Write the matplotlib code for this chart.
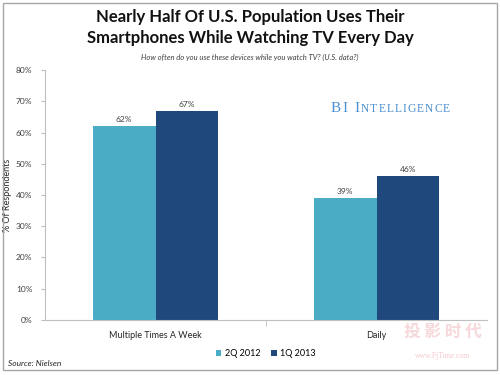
import matplotlib
matplotlib.use('Agg')
import matplotlib.pyplot as plt
from matplotlib.patches import Rectangle
import numpy as np

plt.rcParams['font.family'] = ['Lato', 'DejaVu Sans']

categories = ['Multiple Times A Week', 'Daily']
series_names = ['2Q 2012', '1Q 2013']
q2_2012 = [62, 39]
q1_2013 = [67, 46]
y_ticks = [0, 10, 20, 30, 40, 50, 60, 70, 80]

light = '#4BACC6'
dark = '#1F497D'


def main():
	''' main function'''

	fig = plt.figure()
	fig.set_size_inches(5, 3.75)
	ax = fig.add_axes([0.09, 0.147, 0.884, 0.666])

	x = np.arange(len(categories))
	w = 0.285
	b1 = ax.bar(x - w / 2, q2_2012, w, color=light, label=series_names[0])
	b2 = ax.bar(x + w / 2, q1_2013, w, color=dark, label=series_names[1])

	for bars in (b1, b2):
		for r in bars:
			ax.text(r.get_x() + r.get_width() / 2, r.get_height() + 1.0,
					'{:d}%'.format(int(r.get_height())), ha='center', va='bottom',
					fontsize=6, color='#404040')

	ax.set_ylim(0, 80)
	ax.set_xlim(-0.5, 1.5)
	ax.set_yticks(y_ticks)
	ax.set_yticklabels(['{}%'.format(t) for t in y_ticks], fontsize=6, color='#404040')
	ax.set_xticks(x)
	ax.set_xticklabels(categories, fontsize=6.5, color='#262626')
	ax.tick_params(axis='x', length=0, pad=8)
	ax.tick_params(axis='y', length=3, color='#bfbfbf', pad=6)
	ax.set_xticks([0.5], minor=True)
	ax.tick_params(axis='x', which='minor', length=4, color='#bfbfbf')

	for s in ['top', 'right']:
		ax.spines[s].set_visible(False)
	ax.spines['left'].set_color('#bfbfbf')
	ax.spines['bottom'].set_color('#bfbfbf')

	ax.set_ylabel('% Of Respondents', fontsize=6.5, color='#262626')
	ax.yaxis.set_label_coords(-0.075, 0.5)

	ax.legend(loc='upper center', bbox_to_anchor=(0.5, -0.085), ncol=2, frameon=False,
			  fontsize=6.5, handlelength=0.6, handleheight=0.6, columnspacing=1.2,
			  handletextpad=0.4)

	fig.text(0.5, 0.955, 'Nearly Half Of U.S. Population Uses Their', ha='center',
			 va='center', fontsize=12, fontweight='bold', color='#111111')
	fig.text(0.5, 0.9, 'Smartphones While Watching TV Every Day', ha='center',
			 va='center', fontsize=12, fontweight='bold', color='#111111')
	fig.text(0.5, 0.848, 'How often do you use these devices while you watch TV? (U.S. data?)',
			 ha='center', va='center', fontsize=5.5, style='italic', color='#404040')

	# small caps logo text, letter by letter
	serif = ['Liberation Serif', 'DejaVu Serif']
	logo_color = '#4A8FD0'
	letters = [(c, 11) for c in 'BI'] + [('I', 11)] + [(c, 8.3) for c in 'NTELLIGENCE']
	fig.canvas.draw()
	renderer = fig.canvas.get_renderer()
	xpos = 0.662
	for i, (c, size) in enumerate(letters):
		t = fig.text(xpos, 0.7, c, ha='left', va='baseline', fontsize=size,
					 family=serif, color=logo_color)
		bb = t.get_window_extent(renderer=renderer)
		xpos += bb.width / fig.bbox.width + 0.0022
		if i == 1:
			xpos += 0.012

	fig.text(0.015, 0.03, 'Source: Nielsen', ha='left', va='center', fontsize=6,
			 style='italic', color='#262626')

	fig.text(0.885, 0.115, '投 影 时 代', ha='center', va='center', fontsize=12,
			 family=['Noto Sans CJK SC', 'DejaVu Sans'], color='#f7d8da', fontweight='bold')
	fig.text(0.885, 0.05, 'www.PjTime.com', ha='center', va='center', fontsize=5.5,
			 family=serif, color='#f3c8cc')

	fig.patches.append(Rectangle((0.006, 0.013), 0.988, 0.98, transform=fig.transFigure,
								 fill=False, edgecolor='#a6a6a6', linewidth=1))

	plt.savefig('out.png', dpi=100)
	plt.close()

	return


if __name__ == '__main__':
	main()
